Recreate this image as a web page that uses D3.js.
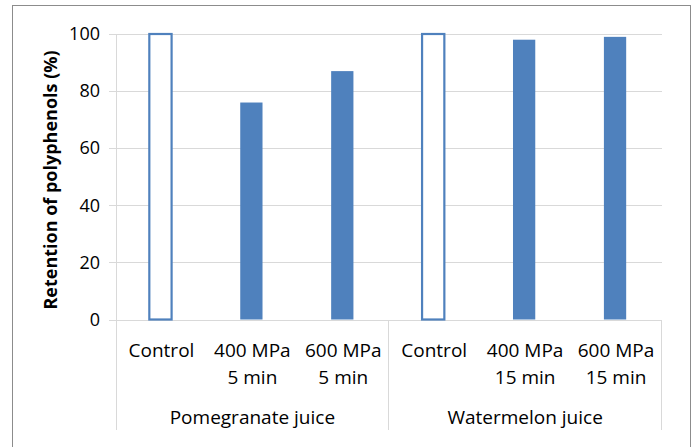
<!DOCTYPE html>
<html>
<head>
<meta charset="utf-8">
<script src="https://cdn.jsdelivr.net/npm/d3@7"></script>
<style>
  html, body { margin: 0; padding: 0; background: #fff; }
  svg { display: block; }
  text { font-family: "Open Sans", "Noto Sans", sans-serif; fill: #000; }
</style>
</head>
<body>
<svg id="chart" width="692" height="447"></svg>
<script>
// Retention of polyphenols after high-pressure processing
const groups = ["Pomegranate juice", "Watermelon juice"];
const categories = [
  ["Control"], ["400 MPa", "5 min"], ["600 MPa", "5 min"],
  ["Control"], ["400 MPa", "15 min"], ["600 MPa", "15 min"]
];
const groupOf = [0, 0, 0, 1, 1, 1];
const retention = [100, 76, 87, 100, 98, 99];
const isControl = [true, false, false, true, false, false];
const yTicks = [0, 20, 40, 60, 80, 100];

const svg = d3.select("#chart");
const plot = { left: 116, right: 661.5, top: 34, bottom: 319.5 };
const blue = "#4f81bd";
const grid = "#d9d9d9";
const labelSize = "19px";

// outer chart frame (bottom edge lies below the visible area)
svg.append("rect")
  .attr("x", 12.5).attr("y", 5.5)
  .attr("width", 678).attr("height", 500)
  .attr("fill", "none").attr("stroke", "#8c8c8c").attr("stroke-width", 1);

const x = d3.scaleBand()
  .domain(d3.range(categories.length))
  .range([plot.left, plot.right])
  .paddingInner(0).paddingOuter(0);

const y = d3.scaleLinear().domain([0, 100]).range([plot.bottom, plot.top]);

// horizontal gridlines with short tick stubs on the left
const yAxis = d3.axisLeft(y).tickValues(yTicks).tickSize(0).tickPadding(16);
const yg = svg.append("g").attr("transform", `translate(${plot.left},0)`).call(yAxis);
yg.select(".domain").remove();
yg.selectAll("text").attr("font-size", "18px").attr("fill", "#000")
  .attr("font-family", "'Open Sans', sans-serif");
yg.selectAll(".tick").append("line")
  .attr("x1", -7).attr("x2", plot.right - plot.left)
  .attr("stroke", grid).attr("stroke-width", 1)
  .attr("shape-rendering", "crispEdges");

// vertical axis line and group separators below the category axis
svg.append("line")
  .attr("x1", plot.left).attr("x2", plot.left)
  .attr("y1", plot.top).attr("y2", 430)
  .attr("stroke", grid).attr("shape-rendering", "crispEdges");
const sepIdx = [3, 6];
svg.selectAll("line.sep").data(sepIdx).enter().append("line")
  .attr("class", "sep")
  .attr("x1", i => i < categories.length ? x(i) : plot.right)
  .attr("x2", i => i < categories.length ? x(i) : plot.right)
  .attr("y1", plot.bottom).attr("y2", 430)
  .attr("stroke", grid).attr("shape-rendering", "crispEdges");

// bars
const bw = x.bandwidth() * 0.245;
svg.selectAll("rect.bar").data(retention).enter().append("rect")
  .attr("class", "bar")
  .attr("x", (d, i) => x(i) + x.bandwidth() / 2 - bw / 2 - 1)
  .attr("y", d => y(d))
  .attr("width", bw)
  .attr("height", d => y(0) - y(d))
  .attr("fill", (d, i) => isControl[i] ? "#fff" : blue)
  .attr("stroke", (d, i) => isControl[i] ? blue : "none")
  .attr("stroke-width", 2.2);

// category labels
const catG = svg.selectAll("g.cat").data(categories).enter().append("g")
  .attr("class", "cat")
  .attr("transform", (d, i) => `translate(${x(i) + x.bandwidth() / 2},0)`);
catG.selectAll("text").data(d => d).enter().append("text")
  .attr("text-anchor", "middle")
  .attr("y", (d, j) => 357 + j * 27)
  .attr("font-size", labelSize)
  .text(d => d);

// group labels
svg.selectAll("text.group").data(groups).enter().append("text")
  .attr("class", "group")
  .attr("text-anchor", "middle")
  .attr("x", (d, gi) => {
    const idx = groupOf.map((g, i) => g === gi ? i : -1).filter(i => i >= 0);
    return (x(idx[0]) + x(idx[idx.length - 1]) + x.bandwidth()) / 2;
  })
  .attr("y", 424)
  .attr("font-size", labelSize)
  .text(d => d);

// y-axis title
svg.append("text")
  .attr("transform", "translate(57,180) rotate(-90)")
  .attr("text-anchor", "middle")
  .attr("font-weight", "bold")
  .attr("font-size", "18px")
  .text("Retention of polyphenols (%)");
</script>
</body>
</html>
